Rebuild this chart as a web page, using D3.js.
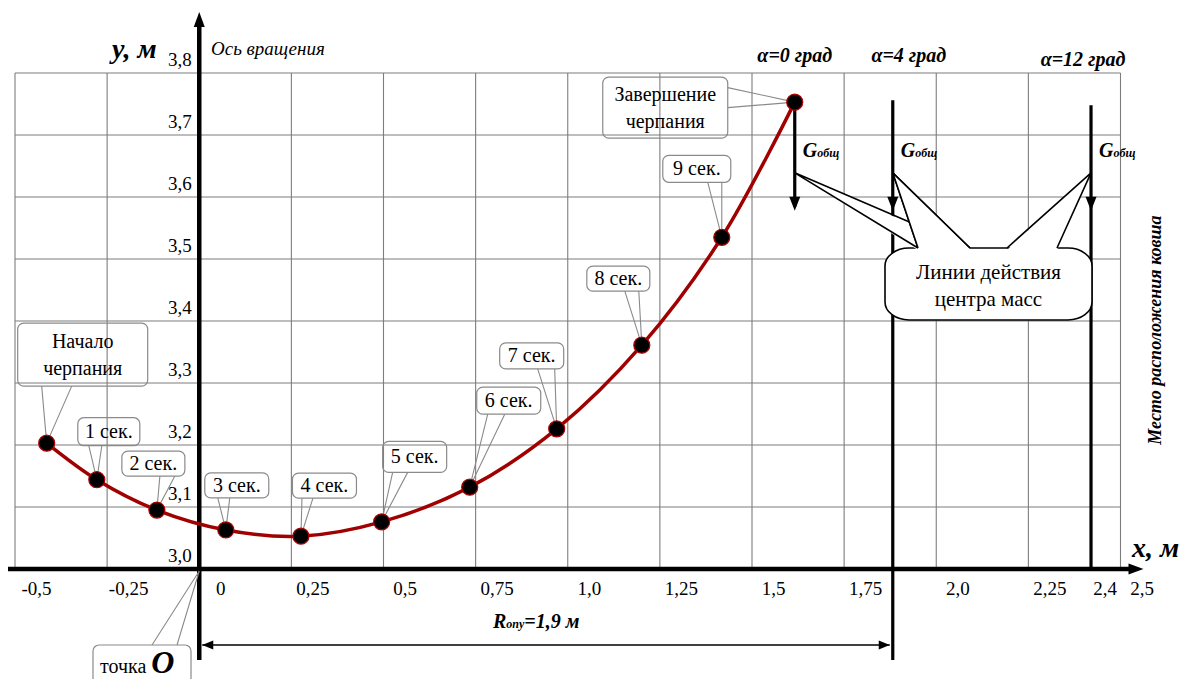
<!DOCTYPE html>
<html>
<head>
<meta charset="utf-8">
<script src="https://cdn.jsdelivr.net/npm/d3@7"></script>
<style>
    body { margin: 0; background: #fff; }
    svg, svg text { font-family: 'Liberation Serif', 'DejaVu Serif', 'Times New Roman', serif; }
</style>
</head>
<body>
<svg id="chart" width="1185" height="679" font-family="Liberation Serif, DejaVu Serif, serif"></svg>
<script>
// bucket trajectory, metres
const pointLabels = ['Начало|черпания', '1 сек.', '2 сек.', '3 сек.', '4 сек.', '5 сек.',
    '6 сек.', '7 сек.', '8 сек.', '9 сек.', 'Завершение|черпания'];
const pointX = [-0.414, -0.278, -0.115, 0.072, 0.276, 0.495, 0.734, 0.970, 1.201, 1.418, 1.616];
const pointY = [3.203, 3.144, 3.095, 3.063, 3.053, 3.076, 3.132, 3.226, 3.361, 3.535, 3.753];

const xTicks = [-0.5, -0.25, 0, 0.25, 0.5, 0.75, 1.0, 1.25, 1.5, 1.75, 2.0, 2.25, 2.4, 2.5];
const xTickLabels = ['-0,5', '-0,25', '0', '0,25', '0,5', '0,75', '1,0', '1,25', '1,5', '1,75', '2,0', '2,25', '2,4', '2,5'];
const yTicks = [3.0, 3.1, 3.2, 3.3, 3.4, 3.5, 3.6, 3.7, 3.8];
const yTickLabels = ['3,0', '3,1', '3,2', '3,3', '3,4', '3,5', '3,6', '3,7', '3,8'];
const gridX = [-0.5, -0.25, 0, 0.25, 0.5, 0.75, 1.0, 1.25, 1.5, 1.75, 2.0, 2.25, 2.5];

// lines of action of the centre of mass
const angleLabels = ['α=0 град', 'α=4 град', 'α=12 град'];
const actionX = [1.616, 1.882, 2.42];
const actionTop = [3.753, 3.756, 3.748];
const actionTip = 3.578;
const wedgeApexY = 3.639;

// callout boxes, offsets from the point (px)
const callouts = [
    { dx: 36, dy: -88.5, w: 130, h: 63, base: [-41, -11] },
    { dx: 12, dy: -48, w: 62, h: 28, base: [-20, -7] },
    { dx: -3.5, dy: -46.5, w: 63, h: 25, base: [6.5, 21.5] },
    { dx: 11, dy: -44.5, w: 64, h: 25, base: [-19, -7] },
    { dx: 23.5, dy: -50.5, w: 64, h: 25, base: [-22.5, -11.5] },
    { dx: 33, dy: -65, w: 64, h: 31, base: [-22, -7] },
    { dx: 39, dy: -86.5, w: 64, h: 27, base: [-21, -4] },
    { dx: -25, dy: -73, w: 64, h: 26, base: [6, 23] },
    { dx: -23.5, dy: -66.5, w: 63, h: 25, base: [6.5, 20.5] },
    { dx: -25, dy: -68.5, w: 68, h: 27, base: [11, 25] },
    { dx: -129.5, dy: 5.5, w: 125, h: 61, side: [-20, 0] }
];

const svg = d3.select('#chart');

const x = d3.scaleLinear().domain([-0.5, 2.5]).range([15, 1120.5]);
const y = d3.scaleLinear().domain([3.0, 3.8]).range([569, 73]);

// grid
const grid = svg.append('g').attr('stroke', '#7d7d7d').attr('stroke-width', 1.1);
grid.selectAll('.gx').data(gridX).enter().append('line')
    .attr('x1', (d) => x(d)).attr('x2', (d) => x(d))
    .attr('y1', y(3.8)).attr('y2', y(3.0));
grid.selectAll('.gy').data(yTicks).enter().append('line')
    .attr('x1', x(-0.5)).attr('x2', x(2.5))
    .attr('y1', (d) => y(d)).attr('y2', (d) => y(d));

// vertical lines of action
const act = svg.append('g');
act.selectAll('line').data(actionX).enter().append('line')
    .attr('x1', (d) => x(d)).attr('x2', (d) => x(d))
    .attr('y1', (d, i) => y(actionTop[i]))
    .attr('y2', (d, i) => (i === 0 ? y(actionTip) - 4 : (i === 1 ? 660 : y(3.0))))
    .attr('stroke', '#000').attr('stroke-width', 3.2);
act.selectAll('path').data(actionX).enter().append('path')
    .attr('d', (d) => {
        const cx = x(d), ty = y(actionTip);
        return `M${cx - 5.5},${ty - 14}L${cx + 5.5},${ty - 14}L${cx},${ty}Z`;
    })
    .attr('fill', '#000');

// axes
const axisColor = '#000';
svg.append('line')
    .attr('x1', 8).attr('x2', x(2.5) + 10)
    .attr('y1', y(3.0)).attr('y2', y(3.0))
    .attr('stroke', axisColor).attr('stroke-width', 4.5);
svg.append('path')
    .attr('d', `M${x(2.5) + 8},${y(3.0) - 5.5}L${x(2.5) + 23},${y(3.0)}L${x(2.5) + 8},${y(3.0) + 5.5}Z`)
    .attr('fill', axisColor);
svg.append('line')
    .attr('x1', x(0)).attr('x2', x(0))
    .attr('y1', 660).attr('y2', 24)
    .attr('stroke', axisColor).attr('stroke-width', 4.5);
svg.append('path')
    .attr('d', `M${x(0) - 5.5},${27}L${x(0)},${12}L${x(0) + 5.5},${27}Z`)
    .attr('fill', axisColor);

const serif = 'Liberation Serif, DejaVu Serif, serif';

const xAxis = svg.append('g')
    .attr('transform', `translate(0,${y(3.0)})`)
    .call(d3.axisBottom(x).tickValues(xTicks).tickFormat((d, i) => xTickLabels[i]).tickSize(0).tickPadding(13));
xAxis.select('.domain').remove();
xAxis.attr('font-family', serif).attr('font-size', 19);
xAxis.selectAll('text').attr('dx', 21).attr('fill', '#000');

const yAxis = svg.append('g')
    .attr('transform', `translate(${x(0) - 0.5},0)`)
    .call(d3.axisLeft(y).tickValues(yTicks).tickFormat((d, i) => yTickLabels[i]).tickSize(0).tickPadding(7));
yAxis.select('.domain').remove();
yAxis.attr('font-family', serif).attr('font-size', 19);
yAxis.selectAll('text').attr('dy', 0).attr('y', -8).attr('fill', '#000');

// trajectory
const pts = pointX.map((v, i) => ({ x: v, y: pointY[i], label: pointLabels[i], c: callouts[i] }));
const line = d3.line().x((d) => x(d.x)).y((d) => y(d.y)).curve(d3.curveCatmullRom.alpha(0.5));
svg.append('path').datum(pts)
    .attr('d', line)
    .attr('fill', 'none')
    .attr('stroke', '#a00000')
    .attr('stroke-width', 3.5);

// callouts of the points
const cg = svg.append('g');
pts.forEach((d) => {
    const px = x(d.x), py = y(d.y), c = d.c;
    const cx = px + c.dx, cy = py + c.dy;
    const left = cx - c.w / 2, top = cy - c.h / 2;
    let b1, b2;
    if (c.side) {
        b1 = [left + c.w, cy + c.side[0]];
        b2 = [left + c.w, cy + c.side[1]];
    } else {
        b1 = [cx + c.base[0], top + c.h];
        b2 = [cx + c.base[1], top + c.h];
    }
    cg.append('rect')
        .attr('x', left).attr('y', top).attr('width', c.w).attr('height', c.h)
        .attr('rx', 6).attr('fill', 'none')
        .attr('stroke', '#8a8a8a').attr('stroke-width', 1.2);
    cg.append('path')
        .attr('d', `M${b1[0]},${b1[1]}L${px},${py}L${b2[0]},${b2[1]}`)
        .attr('fill', 'none').attr('stroke', '#8a8a8a').attr('stroke-width', 1.1);
    const rows = d.label.split('|');
    rows.forEach((r, j) => {
        cg.append('text')
            .attr('x', cx).attr('y', cy + 6.5 + (j - (rows.length - 1) / 2) * 27)
            .attr('text-anchor', 'middle').attr('font-size', 20)
            .text(r);
    });
});

svg.append('g').selectAll('circle').data(pts).enter().append('circle')
    .attr('cx', (d) => x(d.x)).attr('cy', (d) => y(d.y)).attr('r', 8)
    .attr('fill', '#000').attr('stroke', '#b00000').attr('stroke-width', 1.2);

// "Линии действия центра масс" callout
const box = { x: 885, y: 248, w: 207, h: 72 };
const wedgeBase = [[918, 970], [918, 970], [1007, 1057]];
const bg = svg.append('g');
bg.append('rect')
    .attr('x', box.x).attr('y', box.y).attr('width', box.w).attr('height', box.h)
    .attr('rx', 24).attr('ry', 18)
    .attr('fill', '#fff').attr('stroke', '#000').attr('stroke-width', 1.6);
actionX.forEach((v, i) => {
    const ax = x(v), ay = y(wedgeApexY), b = wedgeBase[i];
    bg.append('path')
        .attr('d', `M${b[0]},${box.y + 2}L${ax},${ay}L${b[1]},${box.y + 2}Z`)
        .attr('fill', '#fff');
});
actionX.forEach((v, i) => {
    const ax = x(v), ay = y(wedgeApexY), b = wedgeBase[i];
    bg.append('path')
        .attr('d', `M${b[0]},${box.y}L${ax},${ay}L${b[1]},${box.y}`)
        .attr('fill', 'none').attr('stroke', '#000').attr('stroke-width', 1.6);
});
// hide wedge edges running inside the neighbouring wedge
bg.append('path')
    .attr('d', `M${x(actionX[1])},${y(wedgeApexY)}L${wedgeBase[1][0]},${box.y + 1}L${wedgeBase[1][1]},${box.y + 1}Z`)
    .attr('fill', '#fff');
bg.append('path')
    .attr('d', `M${wedgeBase[1][0]},${box.y}L${x(actionX[1])},${y(wedgeApexY)}L${wedgeBase[1][1]},${box.y}`)
    .attr('fill', 'none').attr('stroke', '#000').attr('stroke-width', 1.6);
bg.append('text').attr('x', box.x + box.w / 2).attr('y', 279)
    .attr('text-anchor', 'middle').attr('font-size', 21).text('Линии действия');
bg.append('text').attr('x', box.x + box.w / 2).attr('y', 306)
    .attr('text-anchor', 'middle').attr('font-size', 21).text('центра масс');

// G labels and angle captions
actionX.forEach((v, i) => {
    const t = svg.append('text')
        .attr('x', x(v) + 8).attr('y', 157)
        .attr('font-weight', 'bold').attr('font-style', 'italic');
    t.append('tspan').attr('font-size', 20).text('G');
    t.append('tspan').attr('font-size', 12).text('общ');
});
const angleY = [62, 62, 66];
svg.selectAll('.angle').data(angleLabels).enter().append('text')
    .attr('x', (d, i) => x(actionX[i]) - (i === 2 ? 8 : 0) + (i === 1 ? 16 : 0))
    .attr('y', (d, i) => angleY[i])
    .attr('text-anchor', 'middle')
    .attr('font-size', 20).attr('font-weight', 'bold').attr('font-style', 'italic')
    .text((d) => d);

// axis titles
svg.append('text').attr('x', 112).attr('y', 58)
    .attr('font-size', 28).attr('font-weight', 'bold').attr('font-style', 'italic')
    .text('y, м');
svg.append('text').attr('x', 211).attr('y', 55)
    .attr('font-size', 19).attr('font-style', 'italic')
    .text('Ось вращения');
svg.append('text').attr('x', 1132).attr('y', 557)
    .attr('font-size', 28).attr('font-weight', 'bold').attr('font-style', 'italic')
    .text('x, м');
svg.append('text')
    .attr('transform', 'translate(1161,330) rotate(-90)')
    .attr('text-anchor', 'middle')
    .attr('font-size', 18).attr('font-weight', 'bold').attr('font-style', 'italic')
    .text('Место расположения ковша');

// radius dimension
const ry = 645;
svg.append('line')
    .attr('x1', x(0) + 3).attr('x2', x(actionX[1]) - 3)
    .attr('y1', ry).attr('y2', ry)
    .attr('stroke', '#000').attr('stroke-width', 1.6);
svg.append('path')
    .attr('d', `M${x(0) + 14},${ry - 4.5}L${x(0) + 3},${ry}L${x(0) + 14},${ry + 4.5}Z`)
    .attr('fill', '#000');
svg.append('path')
    .attr('d', `M${x(actionX[1]) - 14},${ry - 4.5}L${x(actionX[1]) - 3},${ry}L${x(actionX[1]) - 14},${ry + 4.5}Z`)
    .attr('fill', '#000');
const rt = svg.append('text').attr('x', 493).attr('y', 628)
    .attr('font-weight', 'bold').attr('font-style', 'italic');
rt.append('tspan').attr('font-size', 20).text('R');
rt.append('tspan').attr('font-size', 12).text('опу');
rt.append('tspan').attr('font-size', 20).text('=1,9 м');

// origin callout
const ox = x(0), oy = y(3.0);
svg.append('rect')
    .attr('x', 93).attr('y', 645).attr('width', 98).attr('height', 50)
    .attr('rx', 6).attr('fill', 'none')
    .attr('stroke', '#8a8a8a').attr('stroke-width', 1.2);
svg.append('path')
    .attr('d', `M152,645L${ox},${oy + 2}L177,645`)
    .attr('fill', 'none').attr('stroke', '#8a8a8a').attr('stroke-width', 1.1);
const ot = svg.append('text').attr('x', 100).attr('y', 673);
ot.append('tspan').attr('font-size', 20).text('точка ');
ot.append('tspan').attr('font-size', 32).attr('font-weight', 'bold').attr('font-style', 'italic').text('O');
</script>
</body>
</html>
